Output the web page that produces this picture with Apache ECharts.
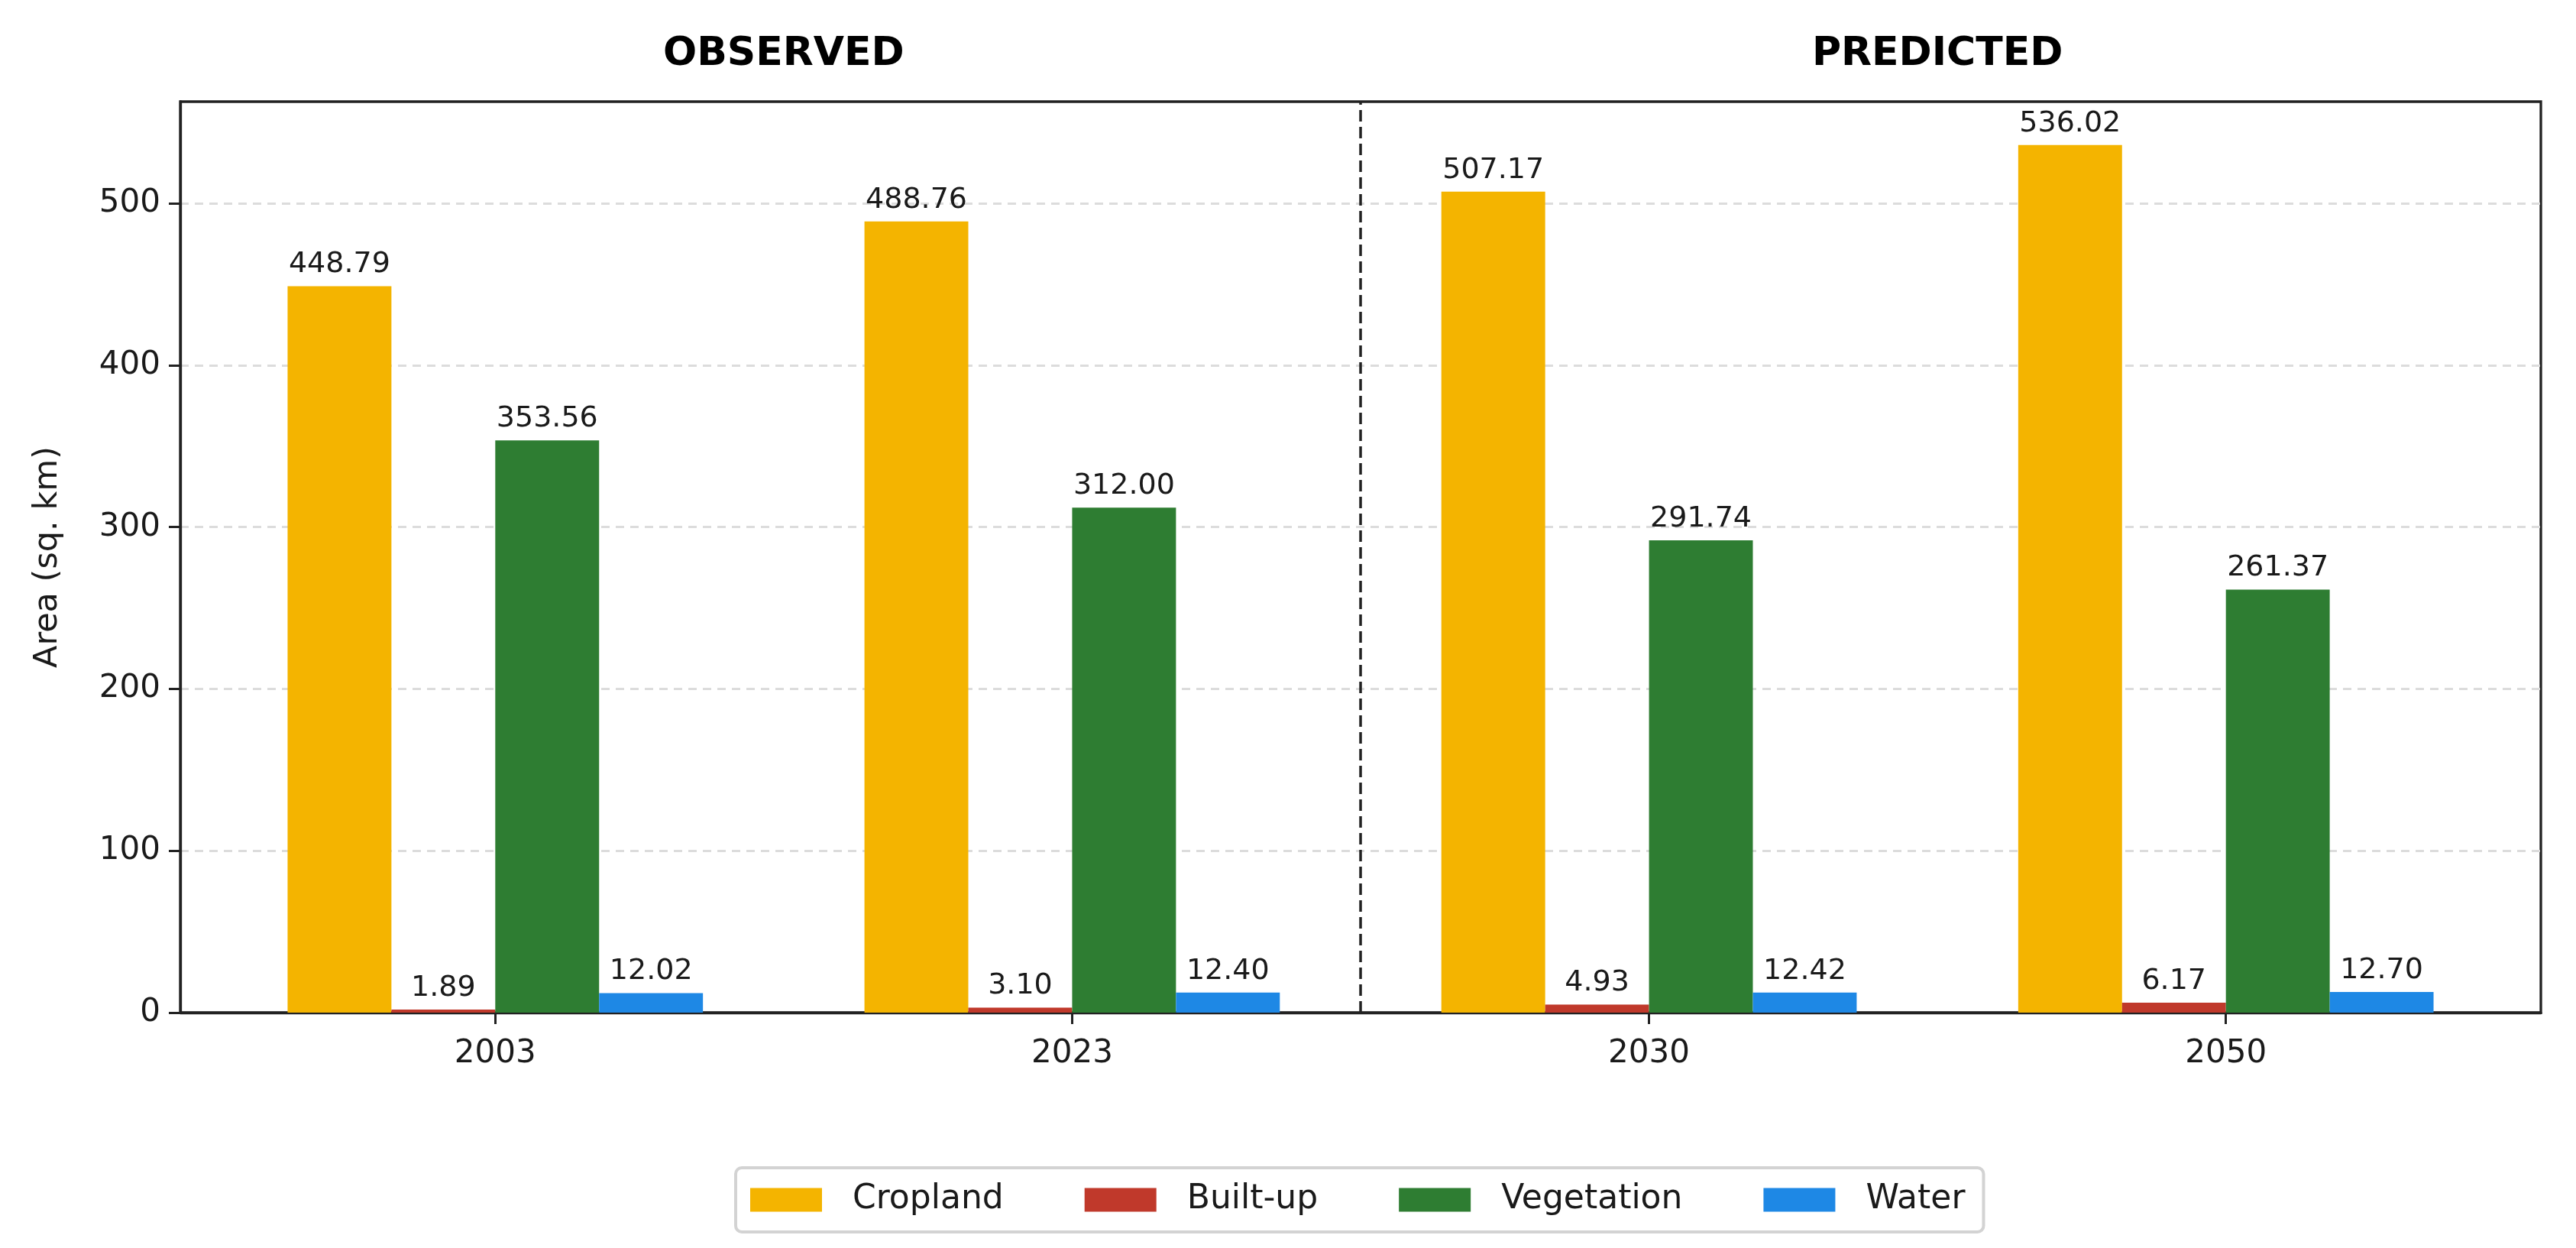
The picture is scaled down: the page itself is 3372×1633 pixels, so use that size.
<!DOCTYPE html>
<html><head><meta charset="utf-8">
<script src="https://cdn.jsdelivr.net/npm/echarts@6/dist/echarts.min.js"></script>
<style>html,body{margin:0;padding:0;background:#fff}#c{width:3372px;height:1633px}</style>
</head><body><div id="c"></div>
<script>
const years = ['2003', '2023', '2030', '2050'];
const seriesNames = ['Cropland', 'Built-up', 'Vegetation', 'Water'];
const cropland = [448.79, 488.76, 507.17, 536.02];
const builtUp = [1.89, 3.10, 4.93, 6.17];
const vegetation = [353.56, 312.00, 291.74, 261.37];
const water = [12.02, 12.40, 12.42, 12.70];
const yTicks = [0, 100, 200, 300, 400, 500];
const sectionTitles = ['OBSERVED', 'PREDICTED'];
const sectionCenters = [0.5, 2.5];
const dividerAt = 1.5;
const colors = ['#F4B400', '#C0392B', '#2E7D32', '#1E88E5'];

const FONT = 'DejaVu Sans';
const allValues = [cropland, builtUp, vegetation, water];
const yMax = Math.max(...allValues.flat()) * 1.05;

const chart = echarts.init(document.getElementById('c'), null, {renderer: 'canvas'});

const series = allValues.map((vals, si) => ({
  name: seriesNames[si],
  type: 'bar',
  data: vals.map((v, i) => [i, v]),
  barWidth: '18%',
  barGap: '0%',
  itemStyle: {color: colors[si]},
  label: {
    show: true, position: 'top', distance: 9,
    fontFamily: FONT, fontSize: 38, color: '#1a1a1a',
    formatter: p => p.value[1].toFixed(2)
  }
}));

series.push({
  name: 'divider',
  type: 'line',
  data: [],
  silent: true,
  markLine: {
    silent: true, symbol: 'none', animation: false,
    label: {show: false},
    lineStyle: {color: '#222', type: [15, 7], width: 3.5},
    data: [{xAxis: dividerAt}]
  }
});

chart.setOption({
  animation: false,
  backgroundColor: '#ffffff',
  grid: {
    left: 236, right: 46, top: 133, bottom: 308,
    show: true, borderColor: '#222', borderWidth: 3.3, backgroundColor: '#fff'
  },
  legend: {
    data: seriesNames,
    left: 963, top: 1528,
    orient: 'horizontal',
    icon: 'rect',
    itemWidth: 94, itemHeight: 31, itemGap: 106,
    padding: [20, 24, 20, 19],
    backgroundColor: '#fff',
    borderColor: '#d3d3d3', borderWidth: 4, borderRadius: 8,
    textStyle: {fontFamily: FONT, fontSize: 44, color: '#1a1a1a', padding: [0, 0, 0, 35]}
  },
  xAxis: {
    type: 'value', min: -0.546, max: 3.546,
    axisLine: {show: true, onZero: false, lineStyle: {color: '#222', width: 3.3}},
    splitLine: {show: false},
    axisTick: {show: true, customValues: years.map((_, i) => i), length: 15, lineStyle: {color: '#222', width: 3}},
    axisLabel: {
      customValues: years.map((_, i) => i),
      formatter: v => years[Math.round(v)],
      fontFamily: FONT, fontSize: 42, color: '#1a1a1a', margin: 33
    }
  },
  yAxis: {
    type: 'value', min: 0, max: yMax, interval: 100,
    name: 'Area (sq. km)', nameLocation: 'middle', nameRotate: 90, nameGap: 152,
    nameTextStyle: {fontFamily: FONT, fontSize: 43, color: '#1a1a1a'},
    axisLine: {show: true, onZero: false, lineStyle: {color: '#222', width: 3.3}},
    axisTick: {show: true, customValues: yTicks, length: 15, lineStyle: {color: '#222', width: 3}},
    axisLabel: {
      customValues: yTicks,
      fontFamily: FONT, fontSize: 42, color: '#1a1a1a', margin: 26
    },
    splitLine: {show: true, showMinLine: false, showMaxLine: true, lineStyle: {color: '#dcdcdc', type: [11, 8], width: 3}}
  },
  series: series
});

const gfx = sectionTitles.map((t, i) => ({
  type: 'text',
  x: chart.convertToPixel({xAxisIndex: 0}, sectionCenters[i]),
  y: 71,
  style: {
    text: t, fontFamily: FONT, fontWeight: 'bold', fontSize: 52,
    fill: '#000', align: 'center', verticalAlign: 'middle'
  }
}));
chart.setOption({graphic: gfx});
</script>
</body></html>
